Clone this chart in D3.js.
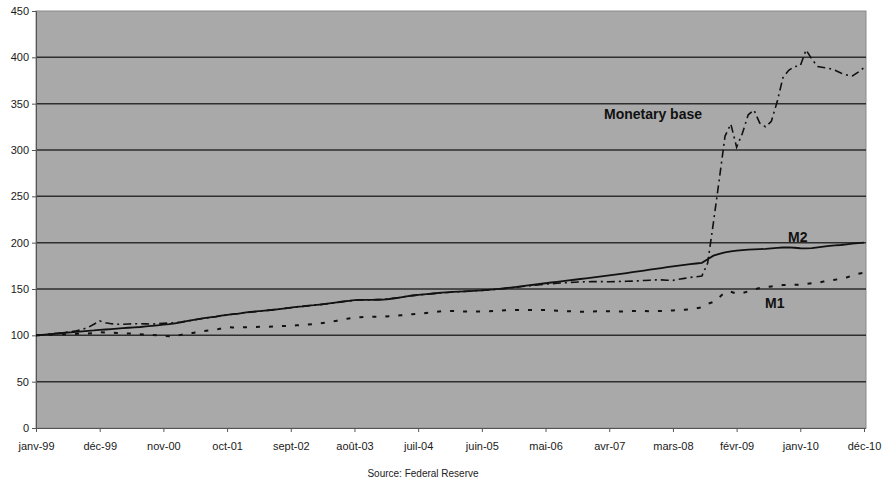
<!DOCTYPE html>
<html>
<head>
<meta charset="utf-8">
<script src="https://cdn.jsdelivr.net/npm/d3@7"></script>
<style>
  body { margin: 0; background: #fff; }
  svg { display: block; font-family: Arial, "Liberation Sans", sans-serif; }
  .axis text { fill: #1a1a1a; font-size: 11px; }
  .axis path, .axis line { stroke: #555; }
</style>
</head>
<body>
<div id="chart"></div>
<script>
// Index, janv-99 = 100 (monthly, janv-99 .. déc-10)
const m2 = [
  100, 100.5, 101, 101.5, 102, 102.8, 103.3, 103.8, 104.3, 104.8, 105.3, 106,
  106.3, 106.7, 107.2, 107.7, 108.2, 108.6, 109, 109.6, 110.2, 110.8, 111.5, 112,
  113, 114, 115.3, 116.5, 117.5, 118.5, 119.3, 120.2, 121.3, 122, 122.8, 123.5,
  124.5, 125.3, 125.8, 126.3, 127, 127.6, 128.2, 129, 130, 130.8, 131.3, 132,
  132.5, 133.2, 134, 134.8, 135.6, 136.5, 137.3, 138, 138.2, 138.3, 138.2, 138.4,
  138.6, 139.2, 140, 141, 142, 143, 143.6, 144.2, 144.8, 145.4, 146, 146.4,
  146.8, 147.2, 147.5, 147.8, 148.2, 148.6, 149, 149.5, 150.2, 150.8, 151.5, 152.2,
  153, 153.8, 154.6, 155.4, 156.2, 157, 157.7, 158.4, 159.2, 160, 160.8, 161.5,
  162.3, 163.1, 163.9, 164.7, 165.5, 166.3, 167.2, 168.1, 169, 169.9, 170.8, 171.7,
  172.6, 173.5, 174.5, 175.3, 176, 176.8, 177.5, 178.3, 182, 186, 188, 189.5,
  190.5, 191.3, 192, 192.5, 192.8, 193, 193.3, 193.8, 194.3, 194.8, 195, 194.5,
  194, 193.8, 194.2, 195, 195.8, 196.5, 197, 197.5, 198.2, 199, 199.6, 200
];

const m1 = [
  100, 100.3, 100.5, 100.8, 101, 101.2, 101.4, 101.6, 101.8, 102, 102.5, 103.5,
  103, 102.8, 102.5, 102.3, 102, 101.6, 101.2, 100.8, 100.4, 100, 99.5, 99,
  99.5, 100.5, 101.5, 102.5, 103.5, 104.5, 105.3, 106, 107.5, 108.8, 108.5, 108.5,
  108.7, 108.8, 109, 109.2, 109.3, 109.5, 109.8, 110.1, 110.4, 110.8, 111.2, 111.6,
  112.2, 113, 113.8, 114.6, 115.8, 117, 118.2, 119, 119.5, 119.8, 120, 120.2,
  120.3, 120.6, 121, 121.6, 122.2, 122.8, 123.3, 123.9, 124.5, 125.2, 126, 126.3,
  126.3, 126, 125.8, 125.5, 125.6, 125.8, 126, 126.2, 126.6, 127, 127.2, 127.3,
  127.3, 127.3, 127.2, 127.2, 127.3, 127, 126.6, 126.3, 126, 125.7, 125.5, 125.5,
  125.8, 126, 126.2, 126, 125.7, 125.6, 125.8, 126.2, 126.5, 126.3, 126, 126.2,
  126.2, 126.5, 126.8, 127.2, 127.6, 128, 129, 130.2, 134, 136, 141, 146.5,
  147, 145, 145.5, 147.5, 149.5, 151, 152, 152.8, 153.5, 154.3, 154.5, 154.5,
  154.8, 155.5, 156.2, 156.8, 158, 159, 160, 161, 162.5, 164.5, 166.5, 167.5
];

const monetaryBase = [
  100, 100.5, 101, 101.8, 102.5, 103.3, 104, 105, 106.5, 108.5, 112, 115.5,
  113.5, 112.5, 112, 112, 112.3, 112.5, 112.6, 112.4, 112.2, 112.5, 113, 113.3,
  113.5, 114.3, 115.3, 116.3, 117.3, 118.3, 119.2, 120, 121, 122, 122.8, 123.6,
  124.3, 125, 125.6, 126.2, 126.9, 127.5, 128.3, 129.1, 129.8, 130.6, 131.2, 131.8,
  132.4, 133.1, 133.9, 134.7, 135.5, 136.3, 137.1, 137.8, 138.1, 138.2, 138.3, 138.5,
  138.8, 139.4, 140.2, 141.1, 142.1, 142.9, 143.5, 144.1, 144.7, 145.3, 145.8, 146.3,
  146.7, 147.1, 147.4, 147.8, 148.1, 148.5, 148.9, 149.4, 150, 150.6, 151.3, 152,
  152.7, 153.4, 154, 154.6, 155.2, 155.7, 156.2, 156.6, 157, 157.3, 157.6, 157.8,
  158, 158, 157.9, 157.8, 158, 158.2, 158.3, 158.5, 158.8, 159.2, 159.5, 159.8,
  159.8, 159.5, 159.3, 160.5, 161.5, 162.5, 163.2, 164, 178, 222, 268, 315,
  328, 303, 318, 338, 343, 329, 325, 331, 352, 378, 386, 390,
  391, 408, 398, 390, 389, 388, 386, 383, 381, 380, 384, 389
];

// one label every 11 months
const tickLabels = ['janv-99', 'déc-99', 'nov-00', 'oct-01', 'sept-02', 'août-03', 'juil-04',
  'juin-05', 'mai-06', 'avr-07', 'mars-08', 'févr-09', 'janv-10', 'déc-10'];
const yTicks = [0, 50, 100, 150, 200, 250, 300, 350, 400, 450];

const months = d3.range(m2.length);   // month index 0 = janv-99

const width = 884, height = 481;
const plot = { left: 36, right: 866, top: 11, bottom: 428 };

const svg = d3.select('#chart').append('svg')
  .attr('width', width)
  .attr('height', height);

const x = d3.scalePoint()
  .domain(months)
  .range([plot.left, 864]);

const y = d3.scaleLinear()
  .domain([0, 450])
  .range([plot.bottom, plot.top]);

// plot background
svg.append('rect')
  .attr('x', plot.left)
  .attr('y', plot.top)
  .attr('width', plot.right - plot.left)
  .attr('height', plot.bottom - plot.top)
  .attr('fill', '#a9a9a9')
  .attr('stroke', '#8a8a8a')
  .attr('stroke-width', 1);

// gridlines
svg.append('g')
  .selectAll('line')
  .data(yTicks.filter(d => d > 0 && d < 450))
  .join('line')
  .attr('x1', plot.left)
  .attr('x2', plot.right)
  .attr('y1', d => y(d))
  .attr('y2', d => y(d))
  .attr('stroke', '#2e2e2e')
  .attr('stroke-width', 1.5);

// y axis
svg.append('g')
  .attr('class', 'axis')
  .attr('transform', `translate(${plot.left},0)`)
  .call(d3.axisLeft(y).tickValues(yTicks).tickSize(4).tickPadding(3))
  .call(g => g.select('.domain').attr('stroke', '#444'));

// x axis
const tickIdx = tickLabels.map((d, i) => i * 11);
svg.append('g')
  .attr('class', 'axis')
  .attr('transform', `translate(0,${plot.bottom})`)
  .call(d3.axisBottom(x)
    .tickValues(tickIdx)
    .tickFormat((d, i) => tickLabels[i])
    .tickSize(4)
    .tickPadding(10))
  .call(g => g.select('.domain').attr('d', `M${plot.left},0.5H${plot.right}`).attr('stroke', '#444'));

// series
const line = d3.line()
  .x((d, i) => x(i))
  .y(d => y(d));

const series = [
  { name: 'Monetary base', values: monetaryBase, dash: '8,4,2,4', width: 1.6 },
  { name: 'M1', values: m1, dash: '4,9', width: 2 },
  { name: 'M2', values: m2, dash: null, width: 1.8 }
];

series.forEach(s => {
  svg.append('path')
    .datum(s.values)
    .attr('d', line)
    .attr('fill', 'none')
    .attr('stroke', '#111')
    .attr('stroke-width', s.width)
    .attr('stroke-dasharray', s.dash);
});

// series labels
const labels = [
  { text: 'Monetary base', x: 604, y: 119 },
  { text: 'M2', x: 788, y: 242 },
  { text: 'M1', x: 765, y: 308 }
];
svg.append('g')
  .selectAll('text')
  .data(labels)
  .join('text')
  .attr('x', d => d.x)
  .attr('y', d => d.y)
  .style('font-size', '14px')
  .style('font-weight', 'bold')
  .style('fill', '#111')
  .text(d => d.text);

// source note
svg.append('text')
  .attr('x', 423)
  .attr('y', 477)
  .attr('text-anchor', 'middle')
  .style('font-size', '10px')
  .style('fill', '#222')
  .text('Source: Federal Reserve');
</script>
</body>
</html>
